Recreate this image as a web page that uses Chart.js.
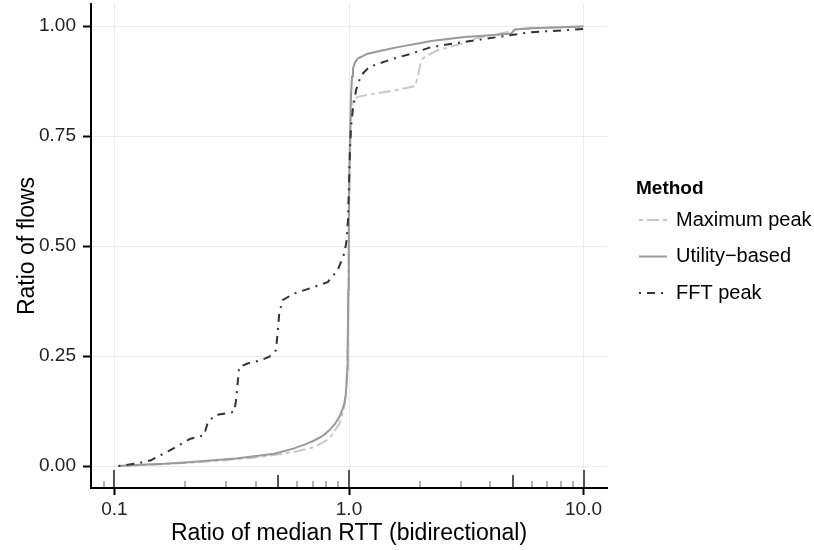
<!DOCTYPE html>
<html>
<head>
<meta charset="utf-8">
<script src="https://cdn.jsdelivr.net/npm/chart.js@4.4.1/dist/chart.umd.min.js"></script>
<style>
  body { margin: 0; background: #fff; }
  #wrap { width: 814px; height: 550px; }
</style>
</head>
<body>
<div id="wrap"><canvas id="rtt-chart" width="814" height="550"></canvas></div>
<script>
// Ratio of median RTT (x) vs. cumulative ratio of flows (y), one pair of arrays per method
const maxPeakRatio = [0.104, 0.163, 0.265, 0.394, 0.48, 0.583, 0.711, 0.824, 0.909, 0.955, 0.97, 0.982, 0.99, 0.995, 1.0, 1.008, 1.018, 1.028, 1.04, 1.089, 1.28, 1.616, 1.90, 1.94, 1.98, 2.02, 2.06, 2.2, 2.39, 3.01, 3.43, 4.61, 5.05, 5.1, 6.0, 8.0, 10.0];
const maxPeakFlows = [0.0, 0.004, 0.011, 0.019, 0.025, 0.032, 0.043, 0.062, 0.096, 0.134, 0.172, 0.22, 0.30, 0.42, 0.56, 0.68, 0.77, 0.815, 0.831, 0.839, 0.846, 0.855, 0.863, 0.875, 0.892, 0.915, 0.926, 0.935, 0.945, 0.96, 0.971, 0.985, 0.99, 0.992, 0.995, 0.997, 0.999];

const utilityRatio = [0.104, 0.13, 0.163, 0.2, 0.265, 0.33, 0.394, 0.48, 0.583, 0.65, 0.711, 0.77, 0.824, 0.87, 0.909, 0.94, 0.955, 0.968, 0.977, 0.983, 0.987, 0.993, 0.998, 1.004, 1.012, 1.02, 1.03, 1.04, 1.06, 1.089, 1.2, 1.4, 1.616, 2.0, 2.24, 2.7, 3.11, 4.0, 4.92, 5.05, 5.1, 6.0, 8.0, 10.0];
const utilityFlows = [0.0, 0.003, 0.005, 0.008, 0.013, 0.017, 0.022, 0.028, 0.040, 0.049, 0.058, 0.068, 0.081, 0.095, 0.111, 0.13, 0.142, 0.16, 0.187, 0.22, 0.26, 0.40, 0.55, 0.68, 0.77, 0.84, 0.885, 0.903, 0.917, 0.926, 0.937, 0.945, 0.952, 0.961, 0.966, 0.971, 0.975, 0.979, 0.983, 0.99, 0.992, 0.995, 0.997, 0.999];

const fftRatio = [0.104, 0.125, 0.143, 0.173, 0.211, 0.241, 0.249, 0.266, 0.3, 0.324, 0.33, 0.335, 0.34, 0.369, 0.42, 0.456, 0.488, 0.496, 0.504, 0.521, 0.583, 0.711, 0.811, 0.895, 0.955, 0.975, 0.99, 1.0, 1.01, 1.02, 1.037, 1.071, 1.125, 1.221, 1.51, 1.84, 2.24, 3.11, 4.32, 6.0, 10.0];
const fftFlows = [0.0, 0.006, 0.013, 0.036, 0.062, 0.070, 0.096, 0.115, 0.12, 0.123, 0.15, 0.187, 0.225, 0.233, 0.24, 0.248, 0.263, 0.301, 0.346, 0.377, 0.392, 0.407, 0.418, 0.445, 0.483, 0.51, 0.56, 0.64, 0.72, 0.77, 0.808, 0.854, 0.888, 0.907, 0.924, 0.937, 0.952, 0.964, 0.975, 0.986, 0.993];

const xTickValues = [0.1, 1, 10];
const xTickLabels = ['0.1', '1.0', '10.0'];
const yTickValues = [0, 0.25, 0.5, 0.75, 1];
const yTickLabels = ['0.00', '0.25', '0.50', '0.75', '1.00'];

// log tick marks along the bottom of the panel
const rugLong = [0.1, 1, 10];
const rugMid = [0.5, 5];
const rugShort = [0.09, 0.2, 0.3, 0.4, 0.6, 0.7, 0.8, 0.9, 2, 3, 4, 6, 7, 8, 9];

const FONT = '"Liberation Sans", Arial, Helvetica, sans-serif';
Chart.defaults.font.family = FONT;

function toPoints(xs, ys) {
    return xs.map((x, i) => ({ x: x, y: ys[i] }));
}

const logTicks = {
    id: 'logTicks',
    afterDatasetsDraw(chart) {
        const { ctx, chartArea, scales: { x } } = chart;
        const bottom = chartArea.bottom - 1;
        ctx.save();
        ctx.beginPath();
        ctx.rect(chartArea.left, chartArea.top, chartArea.width, chartArea.height);
        ctx.clip();
        const draw = (values, len, color, width) => {
            ctx.strokeStyle = color;
            ctx.lineWidth = width;
            values.forEach(v => {
                const px = Math.round(x.getPixelForValue(v));
                ctx.beginPath();
                ctx.moveTo(px, bottom);
                ctx.lineTo(px, bottom - len);
                ctx.stroke();
            });
        };
        draw(rugShort, 6, '#9a9a9a', 1.5);
        draw(rugMid, 12, '#555', 2);
        draw(rugLong, 17, '#555', 2);
        ctx.restore();
    }
};

const methodLegend = {
    id: 'methodLegend',
    afterDraw(chart) {
        const { ctx } = chart;
        ctx.save();
        ctx.textBaseline = 'middle';
        ctx.fillStyle = '#000';
        ctx.font = 'bold 19px ' + FONT;
        ctx.fillText('Method', 636, 189);
        chart.data.datasets.forEach((ds, i) => {
            const y = 220 + i * 36.5;
            ctx.strokeStyle = ds.borderColor;
            ctx.lineWidth = ds.borderWidth;
            ctx.setLineDash(ds.borderDash || []);
            ctx.beginPath();
            ctx.moveTo(639, y);
            ctx.lineTo(667, y);
            ctx.stroke();
            ctx.setLineDash([]);
            ctx.font = '20px ' + FONT;
            ctx.fillStyle = '#000';
            ctx.fillText(ds.label, 676, y);
        });
        ctx.restore();
    }
};

const ctx = document.getElementById('rtt-chart').getContext('2d');
new Chart(ctx, {
    type: 'line',
    data: {
        datasets: [{
            label: 'Maximum peak',
            data: toPoints(maxPeakRatio, maxPeakFlows),
            borderColor: '#c8c8c8',
            borderWidth: 2,
            borderDash: [4, 4, 12, 4],
            order: 2
        }, {
            label: 'Utility\u2212based',
            data: toPoints(utilityRatio, utilityFlows),
            borderColor: '#999999',
            borderWidth: 2,
            order: 1
        }, {
            label: 'FFT peak',
            data: toPoints(fftRatio, fftFlows),
            borderColor: '#333333',
            borderWidth: 2,
            borderDash: [2, 6, 8, 6],
            order: 0
        }]
    },
    options: {
        responsive: false,
        animation: false,
        parsing: false,
        elements: {
            point: { radius: 0 },
            line: { tension: 0, fill: false, borderCapStyle: 'butt' }
        },
        layout: { padding: { top: 4, right: 207, bottom: 0, left: 0 } },
        plugins: {
            legend: { display: false },
            tooltip: { enabled: false }
        },
        scales: {
            x: {
                type: 'logarithmic',
                min: Math.pow(10, -1.1),
                max: Math.pow(10, 1.1),
                afterBuildTicks: s => { s.ticks = xTickValues.map(v => ({ value: v })); },
                afterFit: s => { s.height = 62; s.paddingLeft = 0; s.paddingRight = 0; },
                ticks: {
                    callback: (v, i) => xTickLabels[i],
                    autoSkip: false,
                    maxRotation: 0,
                    padding: 3,
                    color: '#222',
                    font: { size: 19 }
                },
                grid: { color: '#ebebeb', lineWidth: 1, tickColor: '#000', tickWidth: 2, tickLength: 7 },
                border: { color: '#000', width: 2 },
                title: {
                    display: true,
                    text: 'Ratio of median RTT (bidirectional)',
                    color: '#000',
                    font: { size: 23 },
                    padding: { top: 0, bottom: 3 }
                }
            },
            y: {
                type: 'linear',
                min: -0.05,
                max: 1.05,
                afterBuildTicks: s => { s.ticks = yTickValues.map(v => ({ value: v })); },
                afterFit: s => { s.width = 91; s.paddingTop = 0; s.paddingBottom = 0; },
                ticks: {
                    callback: (v, i) => yTickLabels[i],
                    padding: 7,
                    color: '#222',
                    font: { size: 19 }
                },
                grid: { color: '#ebebeb', lineWidth: 1, tickColor: '#000', tickWidth: 2, tickLength: 8 },
                border: { color: '#000', width: 2 },
                title: {
                    display: true,
                    text: 'Ratio of flows',
                    color: '#000',
                    font: { size: 23 },
                    padding: { top: 14, bottom: 0 }
                }
            }
        }
    },
    plugins: [logTicks, methodLegend]
});
</script>
</body>
</html>
